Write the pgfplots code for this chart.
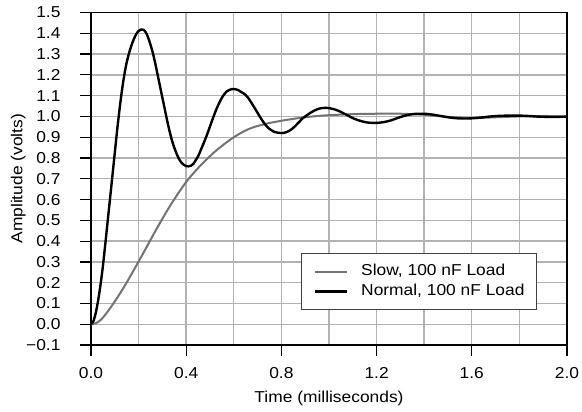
\documentclass[border=0pt]{standalone}
\usepackage{fontspec}
\setmainfont{Liberation Sans}[FakeStretch=1.1]
\usepackage{pgfplots}
\pgfplotsset{compat=1.18}
\begin{document}
\begin{tikzpicture}
\useasboundingbox (-91pt,-66.9pt) rectangle (491pt,345.1pt);
\begin{axis}[
  scale only axis, width=476pt, height=332.6pt,
  xmin=0, xmax=2, ymin=-0.1, ymax=1.5,
  xtick={0,0.4,0.8,1.2,1.6,2.0},
  minor xtick={0.2,0.6,1.0,1.4,1.8},
  xticklabels={0.0,0.4,0.8,1.2,1.6,2.0},
  ytick={-0.1,0,0.1,0.2,0.3,0.4,0.5,0.6,0.7,0.8,0.9,1.0,1.1,1.2,1.3,1.4,1.5},
  yticklabels={−0.1,0.0,0.1,0.2,0.3,0.4,0.5,0.6,0.7,0.8,0.9,1.0,1.1,1.2,1.3,1.4,1.5},
  grid=both,
  major grid style={black!30, line width=1.4pt},
  minor grid style={black!30, line width=1.4pt},
  minor tick length=0pt,
  major tick length=11pt,
  tick align=outside, xtick pos=bottom, ytick pos=left,
  every tick/.style={black, line width=1.2pt},
  axis line style={black, line width=1.2pt},
  tick label style={font=\fontsize{15.8}{18}\selectfont},
  xticklabel style={anchor=base, yshift=-22pt},
  yticklabel style={anchor=east, inner sep=0pt, xshift=-19.3pt},
  label style={font=\fontsize{15.8}{18}\selectfont},
  xlabel={Time (milliseconds)}, ylabel={Amplitude (volts)},
  xlabel style={at={(axis description cs:0.5,-0.173)}, anchor=base},
  ylabel style={at={(axis description cs:-0.1527,0.5)}, anchor=center},
  legend cell align=left,
  legend image code/.code={\draw[#1] (0pt,0pt) -- (32pt,0pt);},
  legend style={at={(rel axis cs:0.937,0.1055)}, anchor=south east,
    draw=black!75, line width=1pt, inner xsep=12pt, inner ysep=10.5pt,
    row sep=5pt, column sep=13pt, font=\fontsize{15.8}{18}\selectfont,
    nodes={inner sep=0pt, text height=11.5pt, text depth=3.5pt}},
]
% slow response
\addplot[black!55, line width=2pt, smooth] coordinates {
(0,0) (0.02,0.005) (0.04,0.02) (0.06,0.046) (0.08,0.077) (0.10,0.11)
(0.12,0.145) (0.14,0.182) (0.16,0.221) (0.18,0.261) (0.20,0.302)
(0.22,0.343) (0.24,0.385) (0.26,0.427) (0.28,0.468) (0.30,0.508)
(0.32,0.547) (0.34,0.584) (0.36,0.619) (0.38,0.653) (0.40,0.685)
(0.42,0.713) (0.44,0.739) (0.46,0.764) (0.48,0.787) (0.50,0.809)
(0.52,0.83) (0.54,0.849) (0.56,0.867) (0.58,0.884) (0.60,0.90)
(0.62,0.914) (0.64,0.927) (0.66,0.938) (0.68,0.947) (0.70,0.954)
(0.74,0.966) (0.78,0.975) (0.82,0.983) (0.86,0.99) (0.90,0.996)
(0.95,1.002) (1.00,1.006) (1.10,1.011) (1.20,1.013) (1.30,1.013)
(1.40,1.008) (1.50,0.998) (1.60,0.992) (1.70,0.996) (1.80,1.0)
(1.90,1.001) (2.00,1.0)
};
% normal response
\addplot[black, line width=2.4pt, smooth] coordinates {
(0,0) (0.01,0.015) (0.02,0.055) (0.03,0.115) (0.04,0.19) (0.05,0.28)
(0.06,0.385) (0.07,0.495) (0.08,0.605) (0.09,0.715) (0.10,0.825)
(0.11,0.935) (0.12,1.035) (0.13,1.125) (0.14,1.20) (0.15,1.26)
(0.16,1.305) (0.17,1.342) (0.18,1.372) (0.19,1.396) (0.20,1.411)
(0.21,1.418) (0.22,1.417) (0.23,1.405) (0.24,1.38) (0.25,1.345)
(0.26,1.305) (0.27,1.255) (0.28,1.20) (0.29,1.145) (0.30,1.09)
(0.31,1.035) (0.32,0.98) (0.33,0.93) (0.34,0.885) (0.35,0.85)
(0.36,0.82) (0.37,0.795) (0.38,0.778) (0.39,0.767) (0.40,0.761)
(0.41,0.760) (0.42,0.763) (0.43,0.772) (0.44,0.79) (0.45,0.808)
(0.46,0.835) (0.47,0.862) (0.48,0.89) (0.49,0.92) (0.50,0.952)
(0.51,0.984) (0.52,1.015) (0.53,1.043) (0.54,1.068) (0.55,1.09)
(0.56,1.107) (0.57,1.12) (0.58,1.127) (0.59,1.131) (0.60,1.132)
(0.61,1.13) (0.62,1.126) (0.63,1.118) (0.64,1.112) (0.65,1.103)
(0.66,1.09) (0.67,1.073) (0.68,1.055) (0.69,1.036) (0.70,1.017)
(0.71,0.998) (0.72,0.98) (0.73,0.964) (0.74,0.95) (0.75,0.94)
(0.76,0.932) (0.77,0.926) (0.78,0.923) (0.79,0.921) (0.80,0.920)
(0.81,0.921) (0.82,0.924) (0.83,0.929) (0.84,0.936) (0.85,0.945)
(0.86,0.956) (0.87,0.968) (0.88,0.98) (0.89,0.992) (0.90,1.0)
(0.91,1.008) (0.92,1.016) (0.93,1.023) (0.94,1.029) (0.95,1.034)
(0.96,1.038) (0.97,1.04) (0.98,1.041) (0.99,1.041) (1.00,1.04)
(1.02,1.035) (1.04,1.027) (1.06,1.016) (1.08,1.004) (1.10,0.992)
(1.12,0.983) (1.14,0.976) (1.16,0.971) (1.18,0.969) (1.20,0.969)
(1.22,0.971) (1.24,0.975) (1.26,0.981) (1.28,0.989) (1.30,0.997)
(1.32,1.004) (1.34,1.009) (1.36,1.012) (1.38,1.013) (1.40,1.013)
(1.42,1.011) (1.44,1.008) (1.46,1.004) (1.48,1.0) (1.50,0.996)
(1.52,0.993) (1.54,0.991) (1.56,0.99) (1.58,0.99) (1.60,0.991)
(1.64,0.995) (1.68,1.0) (1.72,1.003) (1.76,1.004) (1.80,1.004)
(1.84,1.002) (1.88,0.999) (1.92,0.998) (1.96,0.998) (2.00,0.999)
};
\legend{{Slow, 100 nF Load},{Normal, 100 nF Load}}
\end{axis}
\end{tikzpicture}
\end{document}
